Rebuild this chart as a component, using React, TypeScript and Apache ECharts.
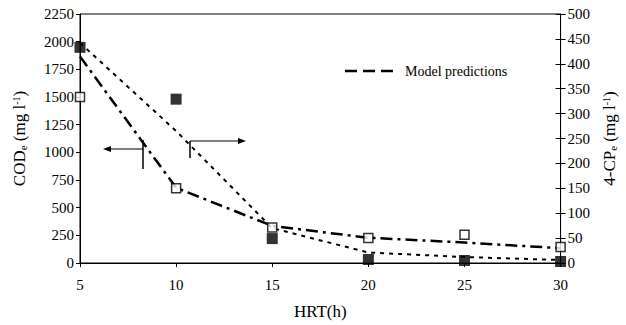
import React, { useEffect, useRef } from "react";
import * as echarts from "echarts";

const hrt = [5, 10, 15, 20, 25, 30];
const codMeasured = [1500, 675, 320, 225, 255, 145];
const cpMeasured = [433, 329, 49, 7, 5, 3];
const codModel = [1865, 680, 335, 228, 185, 134];
const cpModel = [442, 265, 70, 21, 12, 6];
const legendLabel = "Model predictions";

const SERIF = "Liberation Serif";

export default function App() {
  const ref = useRef<HTMLDivElement>(null);
  useEffect(() => {
    if (!ref.current) return;
    const chart = echarts.init(ref.current, undefined, { renderer: "svg" });
    const nameRich = {
      n: { fontFamily: SERIF, fontSize: 17, color: "#000" },
      s: { fontFamily: SERIF, fontSize: 11, color: "#000", verticalAlign: "bottom" },
      p: { fontFamily: SERIF, fontSize: 10, color: "#000", verticalAlign: "top" },
    };
    const labelStyle = {
      color: "#000",
      fontFamily: SERIF,
      fontSize: 15,
      formatter: (v: number) => String(v),
    };
    chart.setOption({
      animation: false,
      backgroundColor: "#fff",
      textStyle: { fontFamily: SERIF },
      grid: { left: 80, right: 64, top: 14, bottom: 54, show: true, borderColor: "#000", borderWidth: 1 },
      xAxis: {
        type: "value",
        min: 5,
        max: 30,
        interval: 5,
        name: "HRT(h)",
        nameLocation: "middle",
        nameGap: 40,
        nameTextStyle: { color: "#000", fontFamily: SERIF, fontSize: 17 },
        axisLine: { lineStyle: { color: "#000", width: 1 } },
        axisTick: { show: true, length: 4, lineStyle: { color: "#000" } },
        axisLabel: { ...labelStyle, margin: 14 },
        splitLine: { show: false },
      },
      yAxis: [
        {
          type: "value",
          min: 0,
          max: 2250,
          interval: 250,
          position: "left",
          name: "{n|COD}{s|e}{n| (mg l}{p|-1}{n|)}",
          nameLocation: "middle",
          nameRotate: 90,
          nameGap: 52,
          nameTextStyle: { rich: nameRich },
          axisLine: { show: true, lineStyle: { color: "#000", width: 1 } },
          axisTick: { show: true, length: 4, lineStyle: { color: "#000" } },
          axisLabel: { ...labelStyle, margin: 6 },
          splitLine: { show: false },
        },
        {
          type: "value",
          min: 0,
          max: 500,
          interval: 50,
          position: "right",
          name: "{n|4-CP}{s|e}{n| (mg l}{p|-1}{n|)}",
          nameLocation: "middle",
          nameRotate: 90,
          nameGap: 40,
          nameTextStyle: { rich: nameRich },
          axisLine: { show: true, lineStyle: { color: "#000", width: 1 } },
          axisTick: { show: true, length: 5, lineStyle: { color: "#000" } },
          axisLabel: { ...labelStyle, margin: 7 },
          splitLine: { show: false },
        },
        {
          type: "value",
          min: 0,
          max: 500,
          interval: 50,
          position: "right",
          axisLine: { show: false },
          axisTick: { show: true, inside: true, length: 5, lineStyle: { color: "#000" } },
          axisLabel: { show: false },
          splitLine: { show: false },
        },
      ],
      series: [
        {
          name: "COD model",
          type: "line",
          yAxisIndex: 0,
          data: hrt.map((x, i) => [x, codModel[i]]),
          symbol: "none",
          lineStyle: { color: "#000", width: 2.5, type: [12, 5, 3, 5] },
          z: 2,
        },
        {
          name: "4-CP model",
          type: "line",
          yAxisIndex: 1,
          data: hrt.map((x, i) => [x, cpModel[i]]),
          symbol: "none",
          lineStyle: { color: "#000", width: 2, type: [4, 5] },
          z: 2,
        },
        {
          name: "COD measured",
          type: "scatter",
          yAxisIndex: 0,
          data: hrt.map((x, i) => [x, codMeasured[i]]),
          symbol: "rect",
          symbolSize: 9,
          itemStyle: { color: "#fff", borderColor: "#000", borderWidth: 1.5 },
          z: 5,
        },
        {
          name: "4-CP measured",
          type: "scatter",
          yAxisIndex: 1,
          data: hrt.map((x, i) => [x, cpMeasured[i]]),
          symbol: "rect",
          symbolSize: 11,
          itemStyle: { color: "#000" },
          z: 5,
        },
      ],
      graphic: [
        { type: "line", shape: { x1: 345, y1: 71, x2: 393, y2: 71 }, style: { stroke: "#000", lineWidth: 2.5, lineDash: [12, 6] } },
        { type: "text", x: 405, y: 71, style: { text: legendLabel, fill: "#000", font: "14px Liberation Serif", textVerticalAlign: "middle" } },
        { type: "line", shape: { x1: 143, y1: 149, x2: 108, y2: 149 }, style: { stroke: "#000", lineWidth: 1.2 } },
        { type: "polygon", shape: { points: [[103, 149], [111, 146], [111, 152]] }, style: { fill: "#000" } },
        { type: "line", shape: { x1: 143, y1: 140, x2: 143, y2: 169 }, style: { stroke: "#000", lineWidth: 1.5 } },
        { type: "line", shape: { x1: 190, y1: 141, x2: 240, y2: 141 }, style: { stroke: "#000", lineWidth: 1.2 } },
        { type: "polygon", shape: { points: [[246, 141], [238, 138], [238, 144]] }, style: { fill: "#000" } },
        { type: "line", shape: { x1: 190, y1: 141, x2: 190, y2: 158 }, style: { stroke: "#000", lineWidth: 1.5 } },
      ],
    });
    return () => chart.dispose();
  }, []);
  return <div ref={ref} style={{ width: 626, height: 325, position: "absolute", left: 0, top: 0 }} />;
}
